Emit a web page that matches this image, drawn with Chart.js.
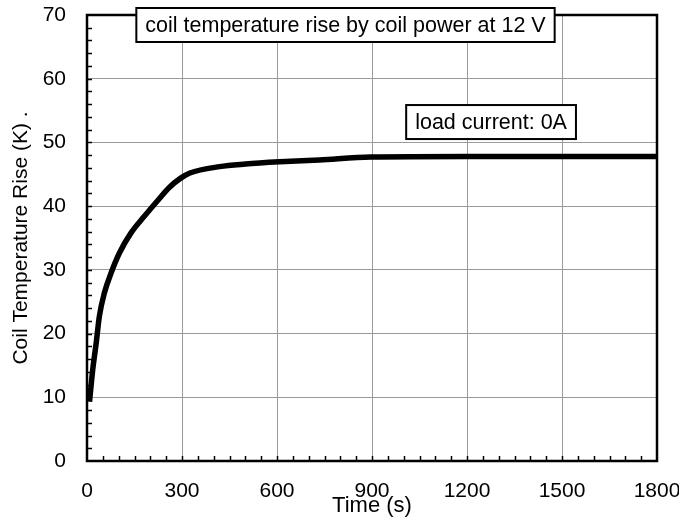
<!DOCTYPE html>
<html>
<head>
<meta charset="utf-8">
<script src="https://cdn.jsdelivr.net/npm/chart.js@4/dist/chart.umd.min.js"></script>
<style>
  html, body { margin: 0; padding: 0; background: #fff; }
  #wrap { width: 679px; height: 521px; }
</style>
</head>
<body>
<div id="wrap"><canvas id="chart"></canvas></div>
<script>
// --- данные ---
const timeSec  = [8, 18, 29, 39, 55, 76, 102, 139, 181, 222, 259, 296, 325, 419, 500, 608, 734, 896, 1200, 1500, 1800];
const tempRise = [9.3, 14.3, 18.5, 22.7, 26.4, 29.5, 32.6, 35.8, 38.4, 40.8, 42.9, 44.4, 45.2, 46.2, 46.6, 46.95, 47.25, 47.7, 47.8, 47.8, 47.8];
const xTicks = [0, 300, 600, 900, 1200, 1500, 1800];
const yTicks = [0, 10, 20, 30, 40, 50, 60, 70];
const chartTitle = 'coil temperature rise by coil power at 12 V';
const noteText = 'load current: 0A';
const xLabel = 'Time (s)';
const yLabel = 'Coil Temperature Rise (K) .';

const FONT = 'Liberation Sans, Arial, sans-serif';

// рамка, малые засечки и подписи в рамках
const framePlugin = {
  id: 'frame',
  afterDatasetsDraw(chart) {
    const { ctx, chartArea: a, scales: { x, y } } = chart;
    ctx.save();
    ctx.strokeStyle = '#000';
    ctx.lineWidth = 1.5;
    // малые засечки внутрь
    for (let v = 50; v < 1800; v += 50) {
      const px = Math.round(x.getPixelForValue(v)) + 0.5;
      ctx.beginPath(); ctx.moveTo(px, a.bottom); ctx.lineTo(px, a.bottom - 5); ctx.stroke();
    }
    for (let v = 2; v < 70; v += 2) {
      const py = Math.round(y.getPixelForValue(v)) + 0.5;
      ctx.beginPath(); ctx.moveTo(a.left, py); ctx.lineTo(a.left + 5, py); ctx.stroke();
    }
    ctx.lineWidth = 2.5;
    ctx.strokeRect(a.left, a.top, a.right - a.left, a.bottom - a.top);

    // рамки с текстом
    function box(text, cx, cy, size) {
      ctx.font = size + 'px ' + FONT;
      const w = ctx.measureText(text).width + 18;
      const h = 34;
      ctx.fillStyle = '#fff';
      ctx.fillRect(cx - w / 2, cy - h / 2, w, h);
      ctx.lineWidth = 2;
      ctx.strokeRect(cx - w / 2, cy - h / 2, w, h);
      ctx.fillStyle = '#000';
      ctx.textAlign = 'center';
      ctx.textBaseline = 'middle';
      ctx.fillText(text, cx, cy + 1);
    }
    box(chartTitle, 345.5, 25, 21.5);
    box(noteText, x.getPixelForValue(1276), y.getPixelForValue(53.2), 21.5);
    ctx.restore();
  }
};

new Chart(document.getElementById('chart'), {
  type: 'line',
  data: {
    datasets: [{
      data: timeSec.map((t, i) => ({ x: t, y: tempRise[i] })),
      borderColor: '#000',
      borderWidth: 5.5,
      pointRadius: 0,
      fill: false,
      cubicInterpolationMode: 'monotone'
    }]
  },
  options: {
    responsive: true,
    maintainAspectRatio: false,
    animation: false,
    layout: { padding: { left: 0, top: 15, right: 22, bottom: 0 } },
    plugins: { legend: { display: false }, tooltip: { enabled: false } },
    scales: {
      x: {
        type: 'linear', min: 0, max: 1800,
        afterBuildTicks: s => { s.ticks = xTicks.map(v => ({ value: v })); },
        afterFit: s => { s.height = 60; s.paddingLeft = 0; s.paddingRight = 0; },
        ticks: { color: '#000', font: { family: FONT, size: 21 }, padding: 18, maxRotation: 0, callback: v => String(v) },
        grid: { color: '#9a9a9a', lineWidth: 1, drawTicks: false },
        border: { display: false },
        title: { display: true, text: xLabel, color: '#000', font: { family: FONT, size: 22 }, padding: { top: 0, bottom: 2 } }
      },
      y: {
        type: 'linear', min: 0, max: 70,
        afterBuildTicks: s => { s.ticks = yTicks.map(v => ({ value: v })); },
        afterFit: s => { s.width = 87; s.paddingTop = 0; s.paddingBottom = 0; },
        ticks: { color: '#000', font: { family: FONT, size: 21 }, padding: 21, callback: v => String(v) },
        grid: { color: '#9a9a9a', lineWidth: 1, drawTicks: false },
        border: { display: false },
        title: { display: true, text: yLabel, color: '#000', font: { family: FONT, size: 21 }, padding: { top: 9, bottom: 0 } }
      }
    }
  },
  plugins: [framePlugin]
});
</script>
</body>
</html>
